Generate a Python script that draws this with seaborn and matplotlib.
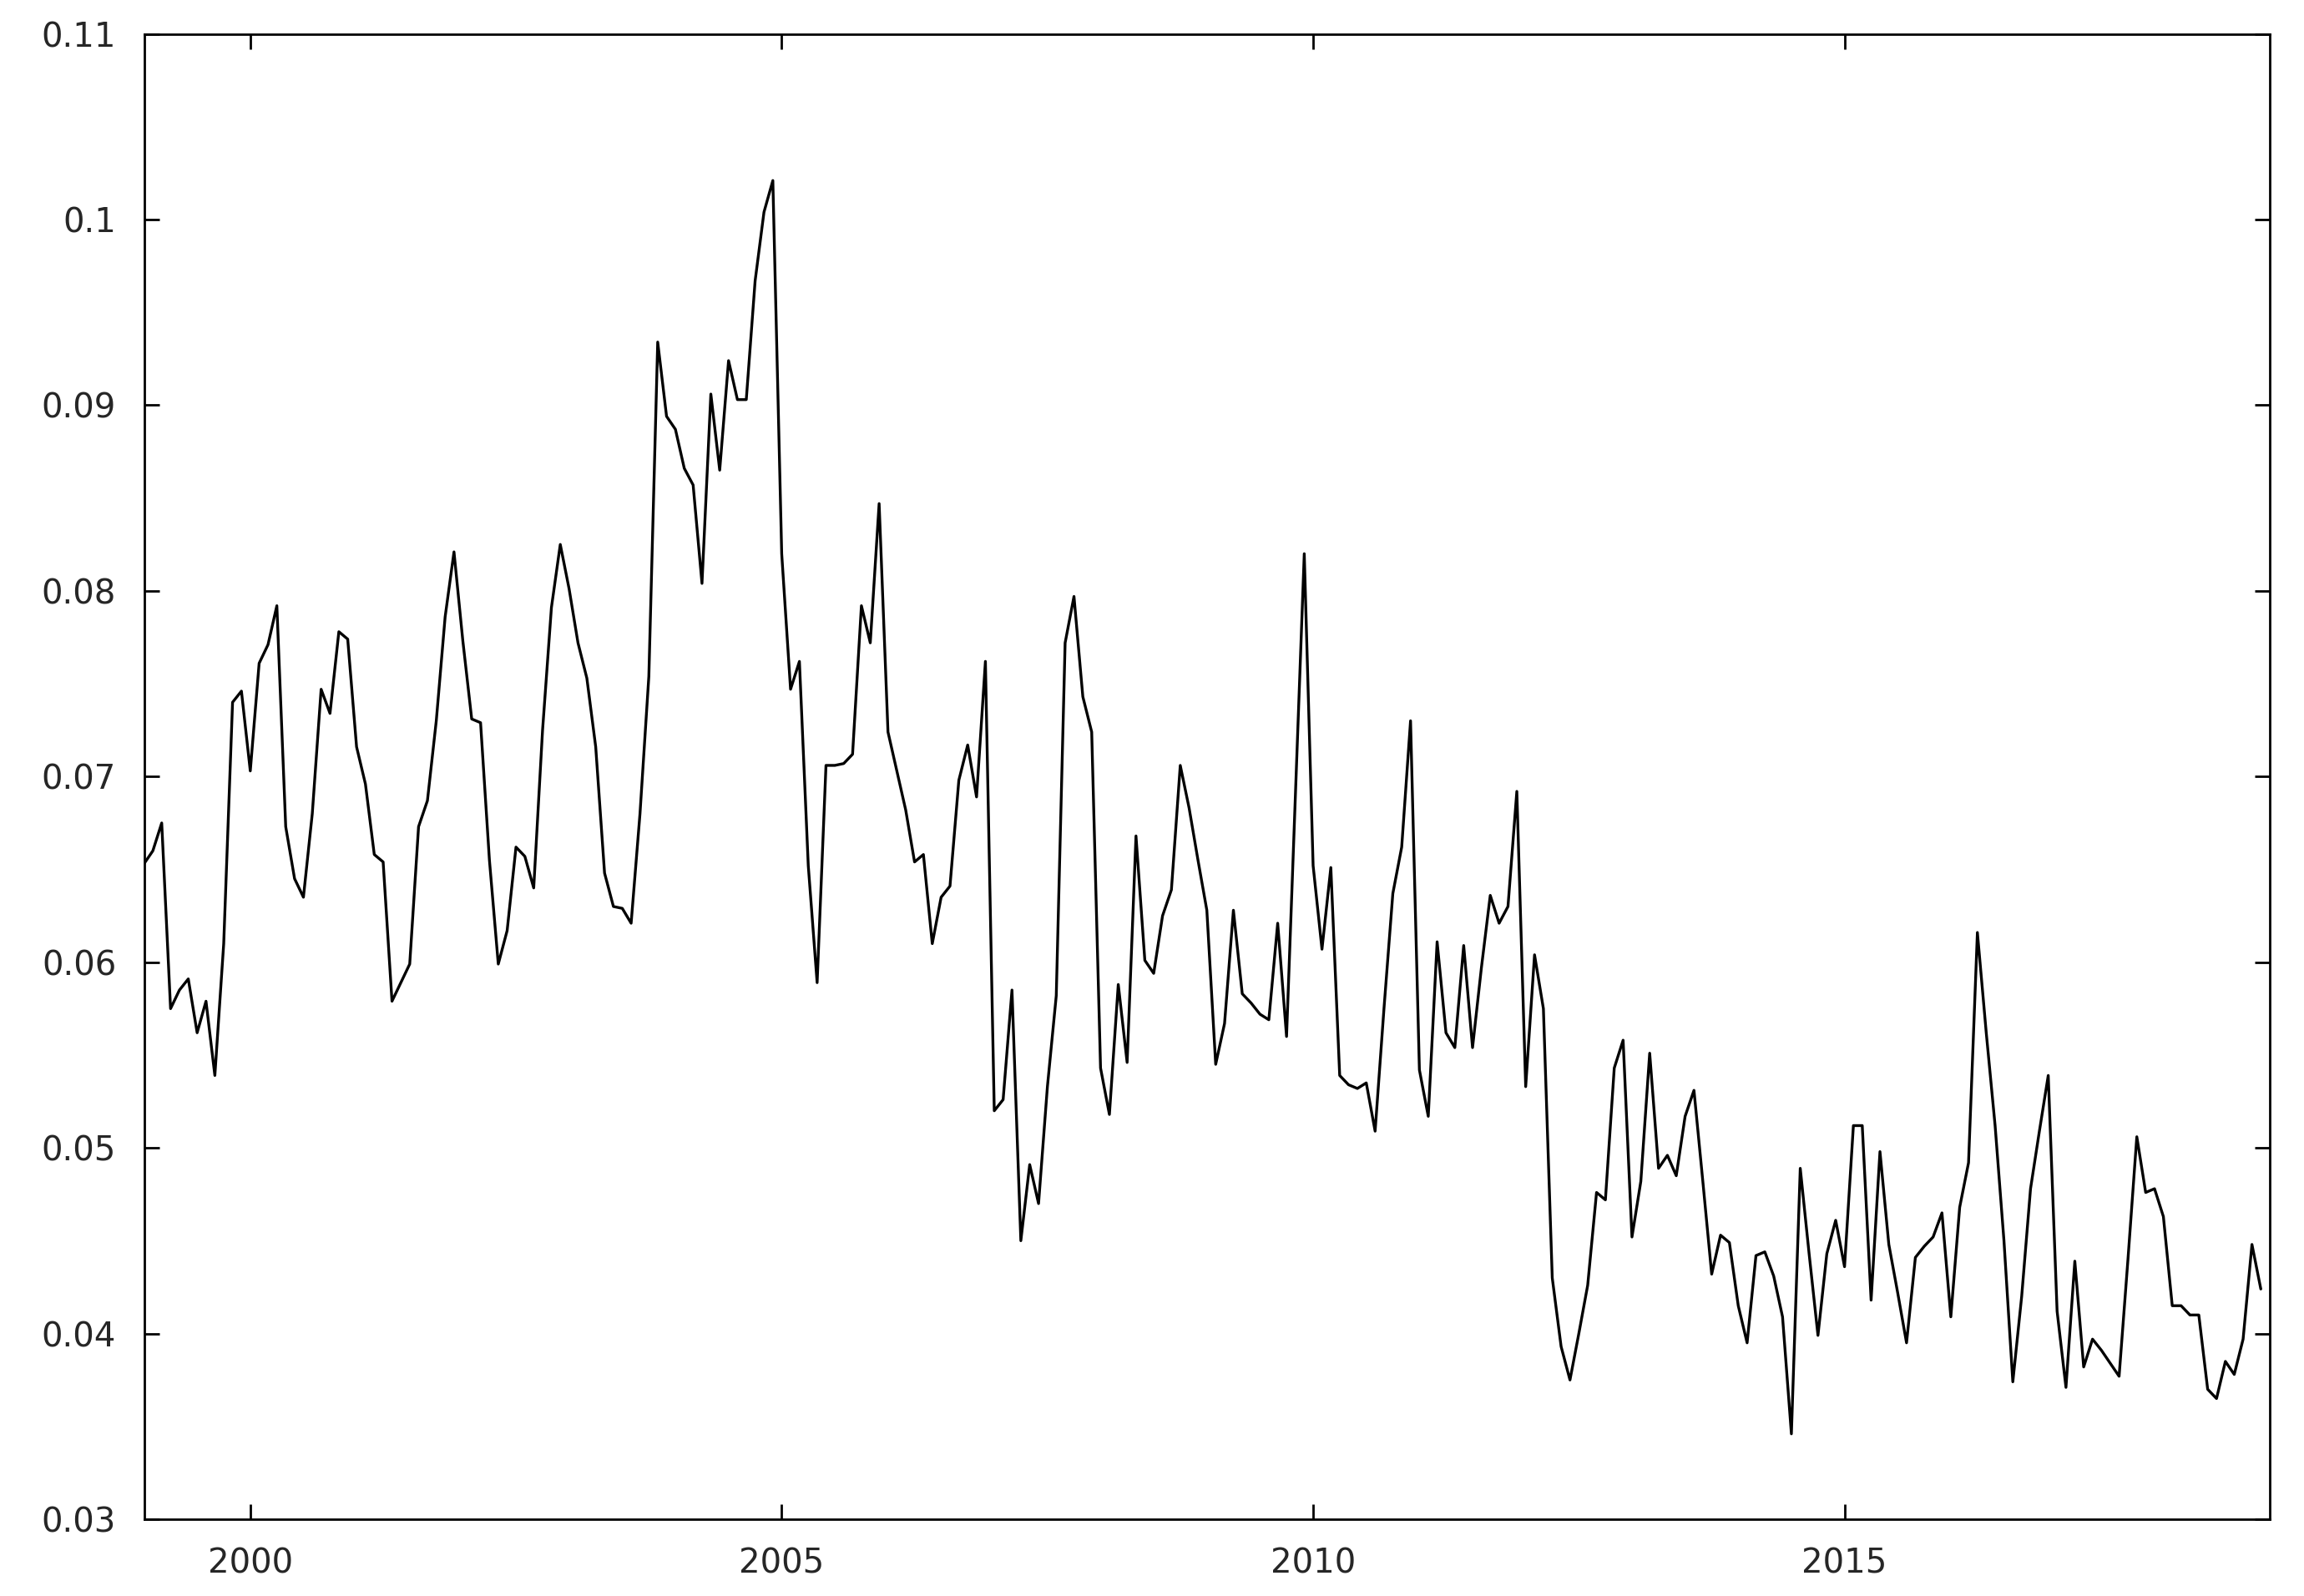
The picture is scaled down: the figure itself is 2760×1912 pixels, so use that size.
import matplotlib
matplotlib.use("Agg")
import matplotlib.pyplot as plt
import seaborn as sns
import numpy as np
import pandas as pd
from matplotlib.ticker import FuncFormatter

# Serie mensal, jan/1999 a dez/2018
start_year = 1999
values = [
    0.0653, 0.0660, 0.0675, 0.0575, 0.0585, 0.0591, 0.0562, 0.0579, 0.0539, 0.0610, 0.0740, 0.0746,
    0.0703, 0.0761, 0.0771, 0.0792, 0.0673, 0.0645, 0.0635, 0.0680, 0.0747, 0.0734, 0.0778, 0.0774,
    0.0716, 0.0696, 0.0658, 0.0654, 0.0579, 0.0589, 0.0599, 0.0673, 0.0687, 0.0730, 0.0786, 0.0821,
    0.0773, 0.0731, 0.0729, 0.0655, 0.0599, 0.0617, 0.0662, 0.0657, 0.0640, 0.0725, 0.0791, 0.0825,
    0.0801, 0.0772, 0.0753, 0.0716, 0.0648, 0.0630, 0.0629, 0.0621, 0.0680, 0.0754, 0.0934, 0.0894,
    0.0887, 0.0866, 0.0857, 0.0804, 0.0906, 0.0865, 0.0924, 0.0903, 0.0903, 0.0967, 0.1004, 0.1021,
    0.0820, 0.0747, 0.0762, 0.0652, 0.0589, 0.0706, 0.0706, 0.0707, 0.0712, 0.0792, 0.0772, 0.0847,
    0.0724, 0.0703, 0.0682, 0.0654, 0.0658, 0.0610, 0.0635, 0.0641, 0.0698, 0.0717, 0.0689, 0.0762,
    0.0520, 0.0526, 0.0585, 0.0450, 0.0491, 0.0470, 0.0533, 0.0582, 0.0772, 0.0797, 0.0743, 0.0724,
    0.0543, 0.0518, 0.0588, 0.0546, 0.0668, 0.0601, 0.0594, 0.0625, 0.0639, 0.0706, 0.0683, 0.0655,
    0.0628, 0.0545, 0.0567, 0.0628, 0.0583, 0.0578, 0.0572, 0.0569, 0.0621, 0.0560, 0.0690, 0.0820,
    0.0652, 0.0607, 0.0651, 0.0539, 0.0534, 0.0532, 0.0535, 0.0509, 0.0575, 0.0637, 0.0662, 0.0730,
    0.0542, 0.0517, 0.0611, 0.0562, 0.0554, 0.0609, 0.0554, 0.0597, 0.0636, 0.0621, 0.0630, 0.0692,
    0.0533, 0.0604, 0.0575, 0.0430, 0.0393, 0.0375, 0.0400, 0.0426, 0.0476, 0.0472, 0.0543, 0.0558,
    0.0452, 0.0482, 0.0551, 0.0489, 0.0496, 0.0485, 0.0517, 0.0531, 0.0482, 0.0432, 0.0453, 0.0449,
    0.0415, 0.0395, 0.0442, 0.0444, 0.0431, 0.0409, 0.0346, 0.0489, 0.0443, 0.0399, 0.0443, 0.0461,
    0.0436, 0.0512, 0.0512, 0.0418, 0.0498, 0.0448, 0.0422, 0.0395, 0.0441, 0.0447, 0.0452, 0.0465,
    0.0409, 0.0468, 0.0492, 0.0616, 0.0562, 0.0512, 0.0450, 0.0374, 0.0420, 0.0478, 0.0509, 0.0539,
    0.0412, 0.0371, 0.0439, 0.0382, 0.0397, 0.0391, 0.0384, 0.0377, 0.0440, 0.0506, 0.0476, 0.0478,
    0.0463, 0.0415, 0.0415, 0.0410, 0.0410, 0.0370, 0.0365, 0.0385, 0.0378, 0.0397, 0.0448, 0.0424,
]
x_ticks = [2000, 2005, 2010, 2015]
y_ticks = [0.03, 0.04, 0.05, 0.06, 0.07, 0.08, 0.09, 0.10, 0.11]

df = pd.DataFrame({"ano": start_year + np.arange(len(values)) / 12.0, "valor": values})

sns.set_style("ticks")
plt.rcParams["font.family"] = ["DejaVu Sans"]

fig = plt.figure(figsize=(27.6, 19.12), dpi=100)
ax = fig.add_axes([0.0625, 0.0481, 0.9226, 0.9307])

sns.lineplot(data=df, x="ano", y="valor", color="black", linewidth=2.4, ax=ax)

ax.set_xlim(1999, 2019)
ax.set_ylim(0.03, 0.11)
ax.set_xticks(x_ticks)
ax.set_yticks(y_ticks)
ax.yaxis.set_major_formatter(FuncFormatter(lambda v, p: "%g" % round(v, 4)))
ax.set_xlabel("")
ax.set_ylabel("")

# estilo gnuplot: ticks para dentro nos quatro lados
ax.tick_params(direction="in", length=13, width=2, labelsize=29, color="black",
               top=True, right=True)
ax.tick_params(axis="y", pad=24)
ax.tick_params(axis="x", pad=24)
for s in ax.spines.values():
    s.set_visible(True)
    s.set_linewidth(2)
    s.set_color("black")

fig.savefig("out.png", dpi=100)
